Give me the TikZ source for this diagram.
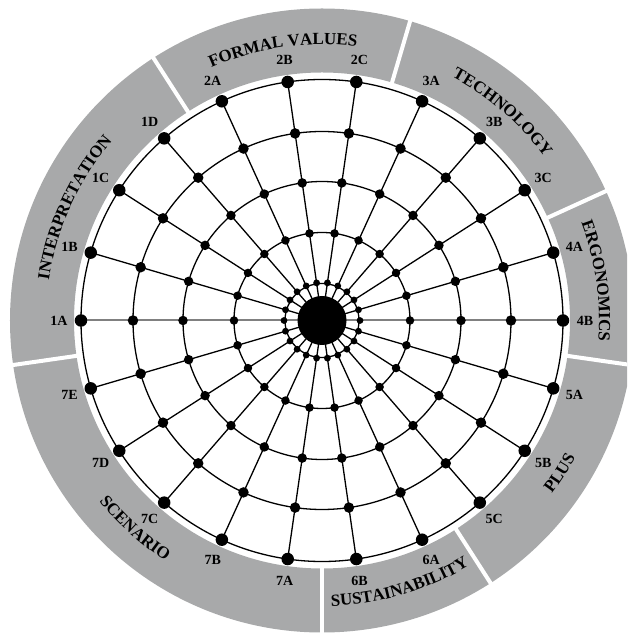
\documentclass[tikz,border=0pt]{standalone}
\usepackage{fontspec}
\setmainfont{Liberation Serif}
\usepackage{tikz}
\usetikzlibrary{decorations.text}
\definecolor{ringgray}{HTML}{A8A9AA}
\definecolor{axisgray}{HTML}{808080}

\newcommand{\ringfont}{\bfseries\fontsize{17}{17}\selectfont}

\begin{document}
\begin{tikzpicture}[
  x=1pt, y=1pt,
  every node/.style={font=\bfseries\fontsize{14}{14}\selectfont},
  dot/.style={circle, fill=black, inner sep=0pt},
  grid/.style={line width=1.3pt},
  axis/.style={line width=2pt, color=axisgray},
  gap/.style={white, line width=4pt},
  ringtext/.style={decorate, decoration={text along path,
      text align=center, text={|\ringfont|#1}}},
]
\useasboundingbox (-322,-315.5) rectangle (305,320.5);
\clip (-322,-315.5) rectangle (305,320.5);

% Outer ring with its seven sectors
\fill[ringgray, even odd rule] (0,0) circle (312) (0,0) circle (248);
\foreach \a in {122.7,73.6,24.5,-8.2,-57.3,-90,-171.8}
  \draw[gap] (\a:245) -- (\a:316);

% Sector titles (top half read clockwise, bottom half counter-clockwise)
\path[ringtext=INTERPRETATION] (185.5:276) arc (185.5:125.5:276);
\path[ringtext=FORMAL VALUES]  (128.2:276) arc (128.2:68.2:276);
\path[ringtext=TECHNOLOGY]     (79.1:276)  arc (79.1:19.1:276);
\path[ringtext=ERGONOMICS]     (38.2:277)  arc (38.2:-21.8:277);
\path[ringtext=PLUS]           (-62.7:288) arc (-62.7:-2.7:288);
\path[ringtext=SUSTAINABILITY] (-103.6:286) arc (-103.6:-43.6:286);
\path[ringtext=SCENARIO]       (-162:287)  arc (-162:-102:287);

% Spoke ends on the outer circle
\coordinate (hub) at (0,0);
\foreach \i in {0,...,21}
  \coordinate (e\i) at ({180-\i*360/22}:241);

% Spokes
\foreach \i in {1,...,10,12,13,...,21}
  \draw[grid] (hub) -- (e\i);
\draw[axis] (e0) -- (e11);

% Concentric circles
\foreach \r in {37,88,139,189,241}
  \draw[grid] (hub) circle (\r);

% Dots on every crossing
\foreach \i in {0,...,21} {
  \foreach \r/\s [count=\k] in {38/6.8,88/8.5,139/9.5,189/10.5,241/12.5}
    \node[dot, minimum size=\s] (d\i-\k) at ({180-\i*360/22}:\r) {};
}
\node[dot, minimum size=49] (core) at (hub) {};

% Spoke labels
\foreach \l [count=\i from 0] in {1A,1B,1C,1D,2A,2B,2C,3A,3B,3C,4A,4B,
                                  5A,5B,5C,6A,6B,7A,7B,7C,7D,7E}
  \node (l\i) at ({180-\i*360/22}:263) {\l};

\end{tikzpicture}
\end{document}
